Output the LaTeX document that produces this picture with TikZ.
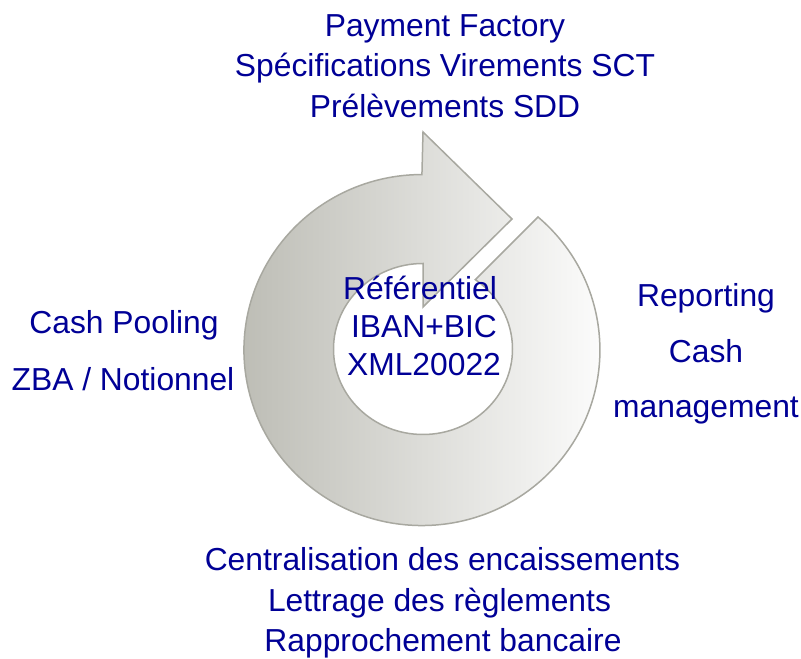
\documentclass[tikz,border=0pt]{standalone}
\usepackage{fontspec}
\setmainfont{Liberation Sans}
\definecolor{txtblue}{RGB}{0,0,150}
\definecolor{ringdark}{RGB}{186,186,178}
\definecolor{ringline}{RGB}{168,168,160}
\begin{document}
\begin{tikzpicture}[x=1pt,y=1pt,
  lbl/.style={text=txtblue, font=\fontsize{31.8}{38}\selectfont, inner sep=0pt, anchor=base},
  ringstyle/.style={left color=ringdark, right color=white, draw=ringline, line width=1.5pt, line join=miter}]
\useasboundingbox (0,0) rectangle (801,659);
% circular arrow
\path[ringstyle] (538,442)
  arc[start angle=49.3, end angle=-270, x radius=178, y radius=175.5]
  -- (423,527) -- (512,440) -- (423,352) -- (423,395.5)
  arc[start angle=-270, end angle=54.2, x radius=89.5, y radius=85.5]
  -- cycle;
% top
\node[lbl] (top1) at (445,622) {Payment Factory};
\node[lbl] (top2) at (445,582) {Spécifications Virements SCT};
\node[lbl] (top3) at (445,541) {Prélèvements SDD};
% left
\node[lbl] (left1) at (124,325) {Cash Pooling};
\node[lbl] (left2) at (123,268) {ZBA / Notionnel};
% right
\node[lbl] (right1) at (706,352) {Reporting};
\node[lbl] (right2) at (706,296) {Cash};
\node[lbl] (right3) at (706,241) {management};
% centre
\node[lbl] (mid1) at (420,359) {Référentiel};
\node[lbl] (mid2) at (424,321) {IBAN+BIC};
\node[lbl] (mid3) at (424,283) {XML20022};
% bottom
\node[lbl] (bot1) at (442.5,88) {Centralisation des encaissements};
\node[lbl] (bot2) at (439.5,47.5) {Lettrage des règlements};
\node[lbl] (bot3) at (443,8) {Rapprochement bancaire};
\end{tikzpicture}
\end{document}
